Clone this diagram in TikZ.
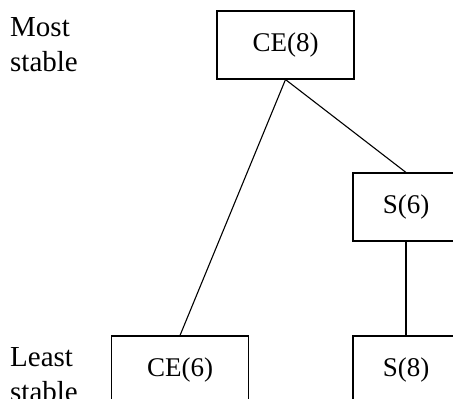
\documentclass[tikz,border=0pt]{standalone}
\usepackage{fontspec}
\setmainfont{Liberation Serif}
\usetikzlibrary{positioning}
\tikzset{x=1pt, y=-1pt,
every box/.style={ % Sets the properties for each box
draw,
line width=1.1pt,
minimum height=68pt,
font=\fontsize{27}{32}\selectfont},
wide box/.style={every box, minimum width=137pt},
narrow box/.style={every box, minimum width=106pt},
side text/.style={ % Labels on the left
align=left,
anchor=north west,
inner sep=0pt,
font=\fontsize{29}{35}\selectfont},
every link/.style={draw, line width=1.1pt}}

\begin{document}
\begin{tikzpicture}
\useasboundingbox (0,0) rectangle (453,399);
\node[wide box] (ce8) at (285.5,45) {CE(8)};
\node[narrow box] (s6) at (406,207) {S(6)};
\node[wide box] (ce6) at (180,370) {CE(6)};
\node[narrow box] (s8) at (406,370) {S(8)};
\node[side text] (most) at (10,17) {Most\\stable};
\node[side text] (least) at (10,347) {Least\\stable};
\draw[every link] (ce8.south) -- (ce6.north);
\draw[every link] (ce8.south) -- (s6.north);
\draw[every link] (s6.south) -- (s8.north);
\end{tikzpicture}
\end{document}
